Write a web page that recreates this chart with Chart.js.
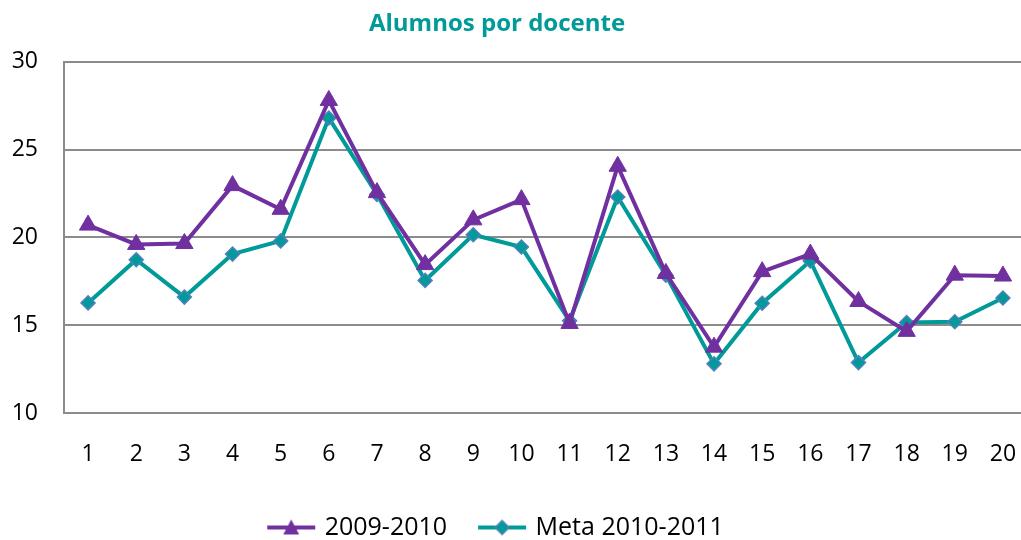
<!DOCTYPE html>
<html>
<head>
<meta charset="utf-8">
<script src="https://cdn.jsdelivr.net/npm/chart.js@4/dist/chart.umd.min.js"></script>
<style>
    html, body { margin: 0; padding: 0; background: #ffffff; overflow: hidden; }
    #wrap { width: 1028px; height: 540px; position: relative; }
</style>
</head>
<body>
<div id="wrap"><canvas id="alumnosChart"></canvas></div>
<script>
const categories = ["1","2","3","4","5","6","7","8","9","10","11","12","13","14","15","16","17","18","19","20"];
const series2009 = [20.7, 19.6, 19.65, 22.95, 21.6, 27.8, 22.55, 18.45, 21.0, 22.15, 15.1, 24.05, 17.95, 13.75, 18.05, 19.05, 16.35, 14.65, 17.85, 17.8];
const seriesMeta = [16.27, 18.73, 16.6, 19.05, 19.8, 26.8, 22.45, 17.55, 20.15, 19.45, 15.25, 22.3, 17.85, 12.8, 16.25, 18.66, 12.87, 15.15, 15.2, 16.55];
const seriesNames = ["2009-2010", "Meta 2010-2011"];
const yTicks = [10, 15, 20, 25, 30];

const purple = "#7030A0";
const teal = "#009A98";
const diamondBorder = "#4F81BD";
const fontFamily = "'Open Sans', sans-serif";

// legend swatch: line with the marker in the middle
function legendSwatch(color, kind){
    const c = document.createElement("canvas");
    c.width = 50; c.height = 20;
    const g = c.getContext("2d");
    g.strokeStyle = color;
    g.lineWidth = 4;
    g.beginPath();
    g.moveTo(1, 10);
    g.lineTo(49, 10);
    g.stroke();
    if(kind === "triangle"){
        g.fillStyle = purple;
        g.beginPath();
        g.moveTo(25, 2);
        g.lineTo(33, 17);
        g.lineTo(17, 17);
        g.closePath();
        g.fill();
    }else{
        g.fillStyle = teal;
        g.strokeStyle = diamondBorder;
        g.lineWidth = 1.5;
        g.beginPath();
        g.moveTo(25, 3);
        g.lineTo(32, 10);
        g.lineTo(25, 17);
        g.lineTo(18, 10);
        g.closePath();
        g.fill();
        g.stroke();
    }
    return c;
}

const swatches = [legendSwatch(purple, "triangle"), legendSwatch(teal, "diamond")];

const ctx = document.getElementById("alumnosChart").getContext("2d");
new Chart(ctx, {
    type: "line",
    data: {
        labels: categories,
        datasets: [
            {
                label: seriesNames[0],
                data: series2009,
                borderColor: purple,
                backgroundColor: purple,
                borderWidth: 4,
                pointStyle: "triangle",
                pointRadius: 10,
                pointBorderWidth: 1,
                pointBorderColor: purple,
                pointBackgroundColor: purple,
                tension: 0
            },
            {
                label: seriesNames[1],
                data: seriesMeta,
                borderColor: teal,
                backgroundColor: teal,
                borderWidth: 4,
                pointStyle: "rectRot",
                pointRadius: 7,
                pointBorderWidth: 1.5,
                pointBorderColor: diamondBorder,
                pointBackgroundColor: teal,
                tension: 0
            }
        ]
    },
    options: {
        responsive: true,
        maintainAspectRatio: false,
        animation: false,
        // negative left padding shifts title/legend centre left, like the original
        layout: { autoPadding: false, padding: { left: -33, right: 1, top: 0, bottom: -10 } },
        plugins: {
            title: {
                display: true,
                text: "Alumnos por docente",
                color: teal,
                font: { family: fontFamily, size: 24, weight: "bold" },
                padding: { top: 10, bottom: 23 }
            },
            legend: {
                display: true,
                position: "bottom",
                labels: {
                    color: "#000000",
                    font: { family: fontFamily, size: 25 },
                    usePointStyle: true,
                    pointStyleWidth: 42,
                    padding: 34,
                    generateLabels: (chart) => chart.data.datasets.map((ds, i) => ({
                        text: ds.label,
                        fillStyle: ds.borderColor,
                        strokeStyle: ds.borderColor,
                        pointStyle: swatches[i],
                        hidden: false,
                        datasetIndex: i
                    }))
                }
            },
            tooltip: { enabled: false }
        },
        scales: {
            x: {
                offset: true,
                grid: { display: false, drawTicks: true, tickLength: 26 },
                border: { display: false },
                ticks: {
                    color: "#000000",
                    font: { family: fontFamily, size: 23 },
                    padding: 2,
                    maxRotation: 0
                },
                afterFit: (scale) => {
                    scale.height = 68;
                    scale.paddingLeft = 0;
                    scale.paddingRight = 0;
                }
            },
            y: {
                min: yTicks[0],
                max: yTicks[yTicks.length - 1],
                afterBuildTicks: (scale) => { scale.ticks = yTicks.map(v => ({ value: v })); },
                grid: { color: "#8c8c8c", lineWidth: 2, drawTicks: false },
                border: { display: true, color: "#8c8c8c", width: 2 },
                ticks: {
                    color: "#000000",
                    font: { family: fontFamily, size: 23 },
                    padding: 26
                },
                afterFit: (scale) => { scale.width = 97; }
            }
        }
    }
});
</script>
</body>
</html>
